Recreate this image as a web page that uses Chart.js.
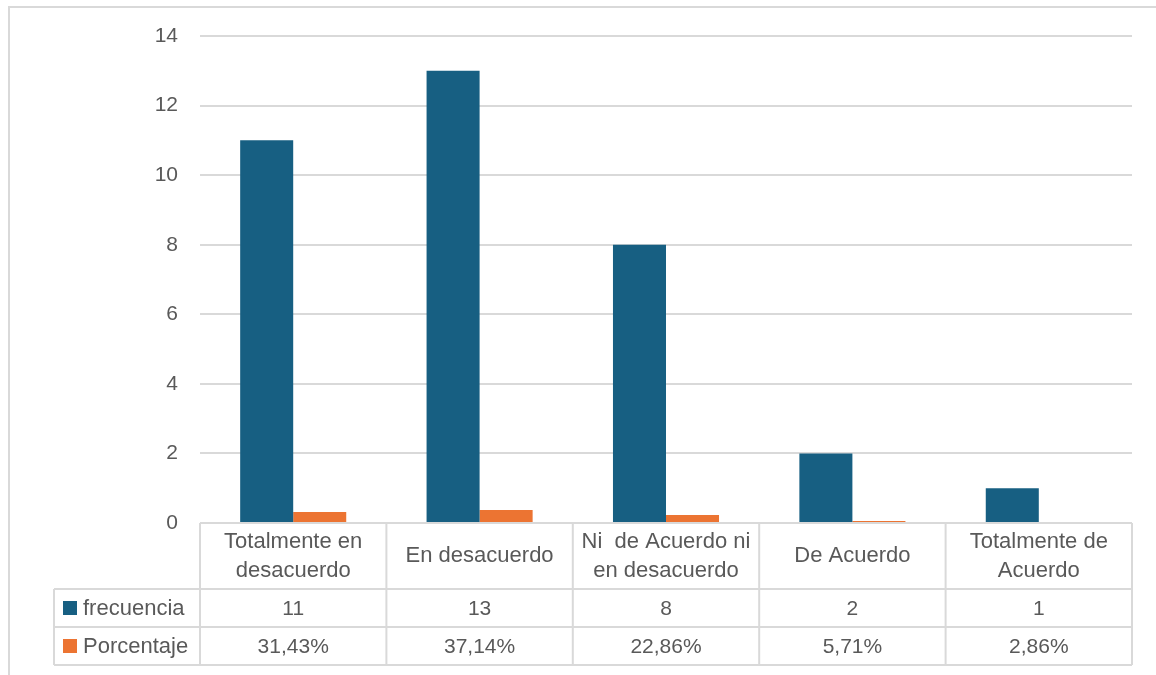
<!DOCTYPE html>
<html>
<head>
<meta charset="utf-8">
<script src="https://cdn.jsdelivr.net/npm/chart.js@4.4.1/dist/chart.umd.min.js"></script>
<style>
  html, body { margin: 0; padding: 0; background: #fff; }
  #wrap { position: relative; width: 1156px; height: 675px; }
</style>
</head>
<body>
<div id="wrap"><canvas id="chart"></canvas></div>
<script>
// ---- data ----
const categories = [
  ['Totalmente en', 'desacuerdo'],
  ['En desacuerdo'],
  ['Ni  de Acuerdo ni', 'en desacuerdo'],
  ['De Acuerdo'],
  ['Totalmente de', 'Acuerdo']
];
const seriesNames = ['frecuencia', 'Porcentaje'];
const frecuencia = [11, 13, 8, 2, 1];
const porcentaje = [0.3143, 0.3714, 0.2286, 0.0571, 0.0286];
const yTicks = [0, 2, 4, 6, 8, 10, 12, 14];

const BLUE = '#175f82';
const ORANGE = '#ec7432';
const TEXT = '#595959';
const LINE = '#d9d9d9';
const FONT = '"Liberation Sans", Arial, sans-serif';

function fmtPct(v) {
  return (v * 100).toFixed(2).replace('.', ',') + '%';
}

// data table under the plot, Excel style
const dataTable = {
  id: 'dataTable',
  afterDraw(chart) {
    const { ctx, chartArea: a, scales: { x } } = chart;
    const top = a.bottom;
    const rows = [top, top + 66, top + 104, top + 142];
    const legendLeft = 54;
    const step = (a.right - a.left) / categories.length;

    ctx.save();
    ctx.strokeStyle = LINE;
    ctx.lineWidth = 2;

    // outer chart border (top and left visible)
    ctx.beginPath();
    ctx.moveTo(9, 675); ctx.lineTo(9, 7); ctx.lineTo(1156, 7);
    ctx.stroke();

    ctx.beginPath();
    ctx.moveTo(a.left, rows[0]); ctx.lineTo(a.right, rows[0]);
    for (let r = 1; r < rows.length; r++) {
      ctx.moveTo(legendLeft, rows[r]); ctx.lineTo(a.right, rows[r]);
    }
    for (let i = 0; i <= categories.length; i++) {
      const px = a.left + i * step;
      ctx.moveTo(px, rows[0]); ctx.lineTo(px, rows[3]);
    }
    ctx.moveTo(legendLeft, rows[1]); ctx.lineTo(legendLeft, rows[3]);
    ctx.stroke();

    ctx.fillStyle = TEXT;
    ctx.textAlign = 'center';
    ctx.textBaseline = 'middle';

    categories.forEach((lines, i) => {
      const cx = x.getPixelForValue(i);
      const mid = (rows[0] + rows[1]) / 2;
      const lh = 29;
      ctx.font = '22px ' + FONT;
      lines.forEach((ln, k) => {
        ctx.fillText(ln, cx, mid + (k - (lines.length - 1) / 2) * lh);
      });
      ctx.font = '21px ' + FONT;
      ctx.fillText(String(frecuencia[i]), cx, (rows[1] + rows[2]) / 2 + 1);
      ctx.fillText(fmtPct(porcentaje[i]), cx, (rows[2] + rows[3]) / 2 + 1);
    });

    // legend keys in the first column
    const colors = [BLUE, ORANGE];
    ctx.textAlign = 'left';
    ctx.font = '22px ' + FONT;
    seriesNames.forEach((name, r) => {
      const mid = (rows[r + 1] + rows[r + 2]) / 2;
      ctx.fillStyle = colors[r];
      ctx.fillRect(63, mid - 7, 14, 14);
      ctx.fillStyle = TEXT;
      ctx.fillText(name, 83, mid + 1);
    });
    ctx.restore();
  }
};

new Chart(document.getElementById('chart'), {
  type: 'bar',
  data: {
    labels: categories.map(c => c.join(' ')),
    datasets: [
      { label: seriesNames[0], data: frecuencia, backgroundColor: BLUE },
      { label: seriesNames[1], data: porcentaje, backgroundColor: ORANGE }
    ]
  },
  options: {
    responsive: true,
    maintainAspectRatio: false,
    animation: false,
    layout: { padding: { top: 36, right: 24, left: 0, bottom: 0 } },
    datasets: { bar: { categoryPercentage: 0.569, barPercentage: 1.0 } },
    plugins: { legend: { display: false }, tooltip: { enabled: false } },
    scales: {
      x: {
        ticks: { display: false },
        grid: { display: false },
        border: { display: false },
        afterFit(scale) { scale.height = 152; }
      },
      y: {
        min: 0,
        max: 14,
        afterBuildTicks(scale) { scale.ticks = yTicks.map(v => ({ value: v })); },
        ticks: { color: TEXT, font: { family: FONT, size: 21 }, padding: 22 },
        grid: { color: LINE, lineWidth: 2, drawTicks: false },
        border: { display: false },
        afterFit(scale) { scale.width = 200; }
      }
    }
  },
  plugins: [dataTable]
});
</script>
</body>
</html>
